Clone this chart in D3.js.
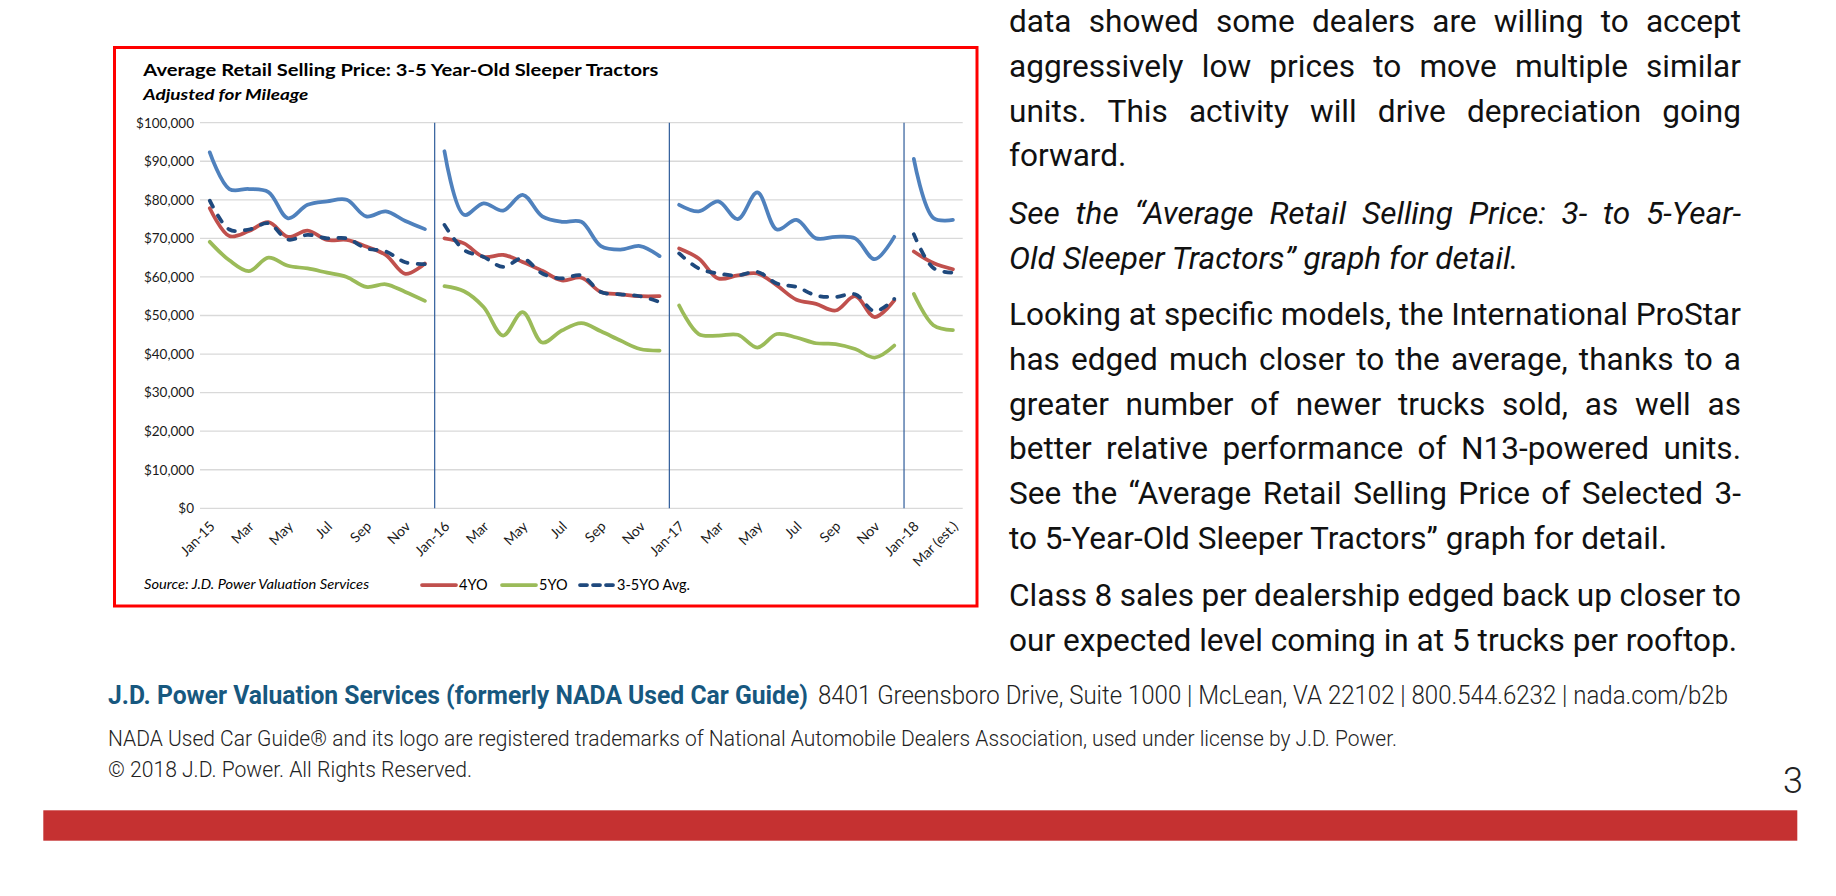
<!DOCTYPE html>
<html>
<head>
<meta charset="utf-8">
<script src="https://cdn.jsdelivr.net/npm/d3@7"></script>
<style>
html,body{margin:0;padding:0;background:#fff;}
svg{display:block;}
</style>
</head>
<body>
<svg id="page" width="1836" height="896"></svg>
<script>
// ---------------- DATA ----------------
const categories = [
  "Jan-15","Feb-15","Mar-15","Apr-15","May-15","Jun-15","Jul-15","Aug-15","Sep-15","Oct-15","Nov-15","Dec-15",
  "Jan-16","Feb-16","Mar-16","Apr-16","May-16","Jun-16","Jul-16","Aug-16","Sep-16","Oct-16","Nov-16","Dec-16",
  "Jan-17","Feb-17","Mar-17","Apr-17","May-17","Jun-17","Jul-17","Aug-17","Sep-17","Oct-17","Nov-17","Dec-17",
  "Jan-18","Feb-18","Mar-18"
];
const tickCategories = ["Jan-15","Mar-15","May-15","Jul-15","Sep-15","Nov-15","Jan-16","Mar-16","May-16","Jul-16","Sep-16","Nov-16","Jan-17","Mar-17","May-17","Jul-17","Sep-17","Nov-17","Jan-18","Mar-18"];
const tickLabels = ["Jan-15","Mar","May","Jul","Sep","Nov","Jan-16","Mar","May","Jul","Sep","Nov","Jan-17","Mar","May","Jul","Sep","Nov","Jan-18","Mar (est.)"];
const yearStarts = ["Jan-16","Jan-17","Jan-18"];
const yTicks = [0,10000,20000,30000,40000,50000,60000,70000,80000,90000,100000];

const values3YO = [
  92300,82800,82800,82000,75200,78700,79600,80000,75700,77000,74500,72400,
  92600,76100,79100,77200,81300,75700,74300,74300,68000,67100,68000,65400,
  78700,77000,79600,75000,81900,72300,74800,70000,70400,70000,64600,70400,
  90600,75300,74800
];
const values4YO = [
  77800,70600,71900,74200,70400,72000,69600,69600,67900,65700,60800,63500,
  70000,68700,65200,65700,63900,61600,59100,59800,56100,55500,55000,55000,
  67400,64800,59600,60400,60900,57800,54100,53000,51300,55000,49600,53900,
  66600,63600,62000
];
const values5YO = [
  69100,64300,61500,65000,62900,62200,61100,60000,57400,58100,56100,53800,
  57600,56300,52200,44800,50900,43000,46100,48000,45900,43500,41300,40900,
  52600,45200,44800,45000,41700,45200,44300,42800,42600,41300,39100,42200,
  55600,47500,46200
];
const valuesAvg = [
  79800,72300,72300,73900,69700,70900,70000,70000,67400,66600,63800,63300,
  73500,67000,65200,62600,64800,60900,59600,60400,56100,55500,55000,53500,
  66100,62200,60900,60400,61300,58300,57400,55200,54800,55500,51100,54300,
  71100,62300,61100
];

const seriesNames = ["3YO","4YO","5YO","3-5YO Avg."];
const seriesColors = ["#4F81BD","#C0504D","#9BBB59","#1F497D"];
const seriesValues = [values3YO, values4YO, values5YO, valuesAvg];
const legendSeries = ["4YO","5YO","3-5YO Avg."];

const chartTitle = "Average Retail Selling Price: 3-5 Year-Old Sleeper Tractors";
const chartSubtitle = "Adjusted for Mileage";
const sourceNote = "Source: J.D. Power Valuation Services";

const bodyParagraphs = [
  {italic:false, lines:[
    ["data showed some dealers are willing to accept", true],
    ["aggressively low prices to move multiple similar", true],
    ["units. This activity will drive depreciation going", true],
    ["forward.", false]]},
  {italic:true, lines:[
    ["See the \u201CAverage Retail Selling Price: 3- to 5-Year-", true],
    ["Old Sleeper Tractors\u201D graph for detail.", false]]},
  {italic:false, lines:[
    ["Looking at specific models, the International ProStar", true],
    ["has edged much closer to the average, thanks to a", true],
    ["greater number of newer trucks sold, as well as", true],
    ["better relative performance of N13-powered units.", true],
    ["See the \u201CAverage Retail Selling Price of Selected 3-", true],
    ["to 5-Year-Old Sleeper Tractors\u201D graph for detail.", false]]},
  {italic:false, lines:[
    ["Class 8 sales per dealership edged back up closer to", true],
    ["our expected level coming in at 5 trucks per rooftop.", false]]}
];
const footerBold = "J.D. Power Valuation Services (formerly NADA Used Car Guide)";
const footerAddress = "8401 Greensboro Drive, Suite 1000 | McLean, VA 22102 | 800.544.6232 | nada.com/b2b";
const footerLine2 = "NADA Used Car Guide\u00AE and its logo are registered trademarks of National Automobile Dealers Association, used under license by J.D. Power.";
const footerLine3 = "\u00A9 2018 J.D. Power. All Rights Reserved.";
const pageNumber = "3";

// ---------------- DRAW ----------------
const svg = d3.select("#page");
const chartFont = "Lato, 'Open Sans', sans-serif";
const pageFont = "Roboto, 'Noto Sans', sans-serif";

// measuring helper
const meas = svg.append("text").attr("x", -1000).attr("y", -1000);
function measure(str, size, weight, style, family) {
  meas.attr("font-size", size).attr("font-weight", weight).attr("font-style", style)
      .attr("font-family", family).text(str);
  return meas.node().getComputedTextLength();
}

// chart frame
svg.append("rect").attr("x", 114.5).attr("y", 47.5).attr("width", 862.5).attr("height", 558.5)
  .attr("fill", "#fff").attr("stroke", "#FF0000").attr("stroke-width", 3);

const x = d3.scaleBand().domain(categories).range([200, 962.7]).padding(0);
const y = d3.scaleLinear().domain([0, 100000]).range([508.3, 122.7]);
const cx = c => x(c) + x.bandwidth() / 2;

// gridlines
svg.append("g").selectAll("line").data(yTicks).join("line")
  .attr("x1", 200).attr("x2", 962.7)
  .attr("y1", d => y(d)).attr("y2", d => y(d))
  .attr("stroke", "#D9D9D9").attr("stroke-width", 1.3);

// y axis
const yAxis = svg.append("g").attr("transform", "translate(200,0)")
  .call(d3.axisLeft(y).tickValues(yTicks).tickSize(0).tickPadding(6)
    .tickFormat(d => "$" + d3.format(",")(d)));
yAxis.select(".domain").remove();
yAxis.selectAll("text").attr("font-family", chartFont).attr("font-size", 13.5).attr("fill", "#1a1a1a");

// separators
svg.append("g").selectAll("line").data(yearStarts).join("line")
  .attr("x1", d => x(d)).attr("x2", d => x(d))
  .attr("y1", y(100000)).attr("y2", y(0))
  .attr("stroke", "#2F5C9A").attr("stroke-width", 1.2);

// x axis
const xAxis = svg.append("g").attr("transform", "translate(0," + y(0) + ")")
  .call(d3.axisBottom(x).tickValues(tickCategories).tickSize(0)
    .tickFormat((d, i) => tickLabels[i]));
xAxis.select(".domain").remove();
xAxis.selectAll("text")
  .attr("font-family", chartFont).attr("font-size", 14).attr("fill", "#1a1a1a")
  .attr("text-anchor", "end").attr("dy", null).attr("y", null)
  .attr("transform", "translate(6,19) rotate(-45)");

// lines (split into yearly segments)
const lineGen = d3.line().x(d => cx(d.c)).y(d => y(d.v)).curve(d3.curveCatmullRom.alpha(0.5));
seriesValues.forEach((vals, si) => {
  const segs = [];
  let cur = [];
  categories.forEach((c, i) => {
    if (yearStarts.includes(c) && cur.length) { segs.push(cur); cur = []; }
    cur.push({c: c, v: vals[i]});
  });
  segs.push(cur);
  const dashed = si === 3;
  svg.append("g").selectAll("path").data(segs).join("path")
    .attr("d", lineGen).attr("fill", "none")
    .attr("stroke", seriesColors[si]).attr("stroke-width", 3.75)
    .attr("stroke-linecap", "round").attr("stroke-linejoin", "round")
    .attr("stroke-dasharray", dashed ? "7,10" : null);
});

// titles
svg.append("text").attr("x", 143.3).attr("y", 76).attr("font-family", chartFont)
  .attr("font-weight", 700).attr("font-size", 17.5).attr("fill", "#000")
  .attr("textLength", 515).attr("lengthAdjust", "spacingAndGlyphs").text(chartTitle);
svg.append("text").attr("x", 143.3).attr("y", 100).attr("font-family", chartFont)
  .attr("font-weight", 700).attr("font-style", "italic").attr("font-size", 15).attr("fill", "#000")
  .attr("textLength", 165).attr("lengthAdjust", "spacingAndGlyphs").text(chartSubtitle);

// source note
svg.append("text").attr("x", 144).attr("y", 589).attr("font-family", chartFont)
  .attr("font-style", "italic").attr("font-size", 12.5).attr("fill", "#000")
  .attr("textLength", 225).attr("lengthAdjust", "spacingAndGlyphs").text(sourceNote);

// legend
const legendX = [420, 500, 578];
legendSeries.forEach((name, i) => {
  const si = seriesNames.indexOf(name);
  const lx = legendX[i];
  svg.append("line").attr("x1", lx + 2).attr("x2", lx + 36).attr("y1", 585).attr("y2", 585)
    .attr("stroke", seriesColors[si]).attr("stroke-width", 3.75).attr("stroke-linecap", "round")
    .attr("stroke-dasharray", si === 3 ? "7,6" : null);
  svg.append("text").attr("x", lx + 39).attr("y", 590).attr("font-family", chartFont)
    .attr("font-size", 14.5).attr("fill", "#000").text(name);
});

// ---------------- PAGE TEXT ----------------
const bx0 = 1009, bx1 = 1741, bodySize = 31;
const refLine = "to 5-Year-Old Sleeper Tractors\u201D graph for detail.";
const sBody = 658 / measure(refLine, bodySize, 400, "normal", pageFont);

function bodyLine(str, yy, justify, italic) {
  const style = italic ? "italic" : "normal";
  if (!justify) {
    const w = measure(str, bodySize, 400, style, pageFont) * sBody;
    svg.append("text").attr("x", bx0).attr("y", yy).attr("font-family", pageFont)
      .attr("font-size", bodySize).attr("font-style", style).attr("fill", "#111")
      .attr("textLength", w).attr("lengthAdjust", "spacingAndGlyphs").text(str);
    return;
  }
  const words = str.split(" ");
  const ws = words.map(wd => measure(wd, bodySize, 400, style, pageFont) * sBody);
  const gap = (bx1 - bx0 - d3.sum(ws)) / (words.length - 1);
  let xx = bx0;
  words.forEach((wd, i) => {
    svg.append("text").attr("x", xx).attr("y", yy).attr("font-family", pageFont)
      .attr("font-size", bodySize).attr("font-style", style).attr("fill", "#111")
      .attr("textLength", ws[i]).attr("lengthAdjust", "spacingAndGlyphs").text(wd);
    xx += ws[i] + gap;
  });
}
const paraStarts = [32, 224, 325, 606];
bodyParagraphs.forEach((p, pi) => {
  p.lines.forEach((ln, li) => bodyLine(ln[0], paraStarts[pi] + li * 44.8, ln[1], p.italic));
});

// footer
svg.append("text").attr("x", 108).attr("y", 704).attr("font-family", pageFont)
  .attr("font-weight", 700).attr("font-size", 25).attr("fill", "#17587F")
  .attr("textLength", 700).attr("lengthAdjust", "spacingAndGlyphs").text(footerBold);
svg.append("text").attr("x", 818).attr("y", 704).attr("font-family", pageFont)
  .attr("font-weight", 300).attr("font-size", 25).attr("fill", "#222")
  .attr("textLength", 910).attr("lengthAdjust", "spacingAndGlyphs").text(footerAddress);
svg.append("text").attr("x", 108).attr("y", 746).attr("font-family", pageFont)
  .attr("font-weight", 300).attr("font-size", 22).attr("fill", "#222")
  .attr("textLength", 1289).attr("lengthAdjust", "spacingAndGlyphs").text(footerLine2);
svg.append("text").attr("x", 108).attr("y", 777).attr("font-family", pageFont)
  .attr("font-weight", 300).attr("font-size", 22).attr("fill", "#222")
  .attr("textLength", 364).attr("lengthAdjust", "spacingAndGlyphs").text(footerLine3);
svg.append("text").attr("x", 1783).attr("y", 793).attr("font-family", pageFont)
  .attr("font-weight", 300).attr("font-size", 36).attr("fill", "#222").text(pageNumber);

// red band
svg.append("rect").attr("x", 43.3).attr("y", 810.3).attr("width", 1754).attr("height", 30.4)
  .attr("fill", "#C53131");

meas.remove();
</script>
</body>
</html>
